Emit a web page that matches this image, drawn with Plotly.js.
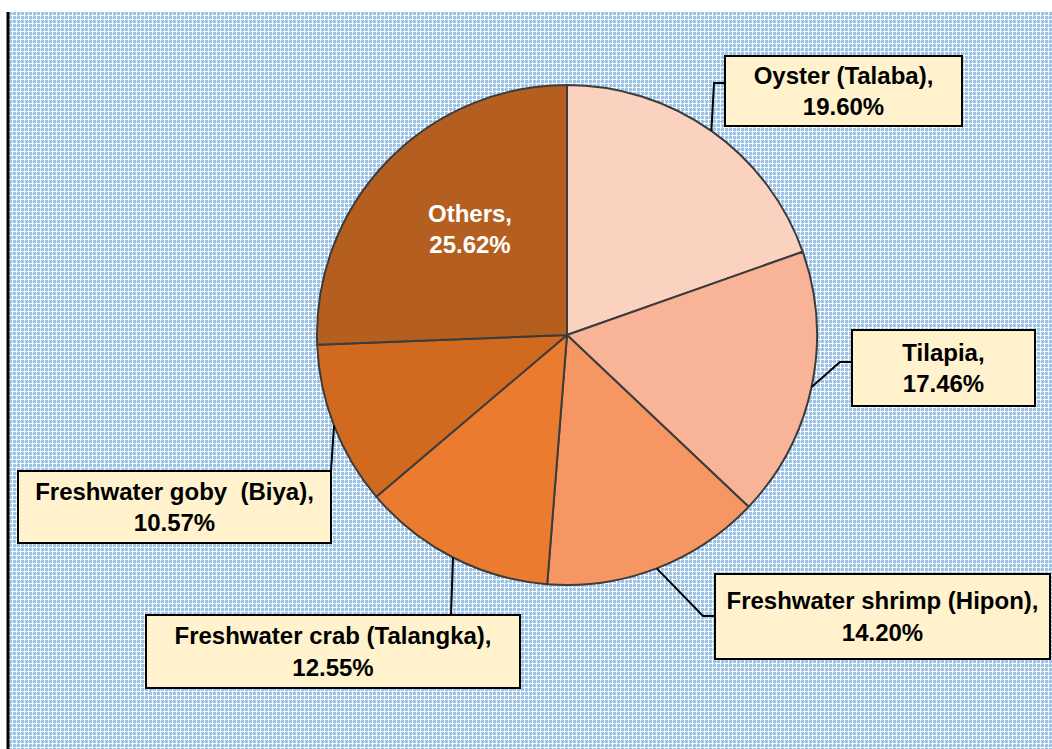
<!DOCTYPE html>
<html>
<head>
<meta charset="utf-8">
<script src="https://cdn.plot.ly/plotly-3.0.1.min.js"></script>
<style>
  html, body { margin: 0; padding: 0; background: #ffffff; }
  #wrap { position: relative; width: 1052px; height: 749px; background: #ffffff; overflow: hidden; }
  #bg { position: absolute; left: 9px; top: 12px; right: 0; bottom: 0;
        background-image: url("data:image/svg+xml;utf8,<svg xmlns='http://www.w3.org/2000/svg' width='8' height='8' shape-rendering='crispEdges'><rect width='8' height='8' fill='%23ffffff'/><rect x='0' y='0' width='3' height='3' fill='%239dc3e6'/><rect x='4' y='0' width='3' height='3' fill='%239dc3e6'/><rect x='0' y='4' width='3' height='3' fill='%239dc3e6'/><rect x='4' y='4' width='3' height='3' fill='%239dc3e6'/><rect x='3' y='1' width='1' height='1' fill='%239dc3e6'/><rect x='1' y='3' width='1' height='1' fill='%239dc3e6'/><rect x='7' y='5' width='1' height='1' fill='%239dc3e6'/><rect x='5' y='7' width='1' height='1' fill='%239dc3e6'/></svg>");
        background-repeat: repeat; }
  #chart { position: absolute; left: 0; top: 0; width: 1052px; height: 749px; }
</style>
</head>
<body>
<div id="wrap"><div id="bg"></div><div id="chart"></div></div>
<script>
// ---- data ----
const categories = ["Oyster (Talaba)", "Tilapia", "Freshwater shrimp (Hipon)", "Freshwater crab (Talangka)", "Freshwater goby  (Biya)", "Others"];
const values = [19.60, 17.46, 14.20, 12.55, 10.57, 25.62];
const sliceColors = ["#fbd2bf", "#f9b498", "#f69763", "#eb7c2f", "#d1691f", "#b45f20"];

// ---- layout helpers (pixels) ----
const W = 1052, H = 749;
const CX = 567, CY = 335, R = 250;
const px = x => x / W;
const py = y => 1 - y / H;

// label box geometry: [left, top, right, bottom]
const boxes = [
  [725, 56, 962, 126],
  [852, 330, 1035, 406],
  [715, 574, 1050, 659],
  [146, 615, 520, 688],
  [18, 471, 331, 543],
  null
];
// elbow routes for leader lines (after the tip on the pie edge)
const routes = [
  [[714, 83], [725, 83]],
  [[840, 362], [852, 362]],
  [[703, 616], [715, 616]],
  [[451, 615]],
  [[331, 471]],
  null
];

const total = values.reduce((a, b) => a + b, 0);
let cum = 0;
const annotations = [];
const shapes = [];
values.forEach((v, i) => {
  const mid = (cum + v / 2) / total * 2 * Math.PI;
  cum += v;
  const tip = [CX + R * Math.sin(mid), CY - R * Math.cos(mid)];
  const txt = categories[i] + ",<br>" + v.toFixed(2) + "%";
  if (boxes[i]) {
    const b = boxes[i];
    annotations.push({
      xref: "paper", yref: "paper",
      x: px((b[0] + b[2]) / 2), y: py((b[1] + b[3]) / 2),
      xanchor: "center", yanchor: "middle",
      width: b[2] - b[0] - 2, height: b[3] - b[1] - 2,
      text: txt, showarrow: false, align: "center", valign: "middle",
      bgcolor: "#fff2cc", bordercolor: "#000000", borderwidth: 2, borderpad: 0,
      font: { family: "Liberation Sans, Arial, sans-serif", size: 24, color: "#000000", weight: "bold" }
    });
    let d = "M" + px(tip[0]) + "," + py(tip[1]);
    routes[i].forEach(p => { d += " L" + px(p[0]) + "," + py(p[1]); });
    shapes.push({ type: "path", xref: "paper", yref: "paper", path: d,
      line: { color: "#000000", width: 2 } });
  } else {
    // inside label (Others)
    annotations.push({
      xref: "paper", yref: "paper", x: px(470), y: py(229),
      xanchor: "center", yanchor: "middle",
      text: txt, showarrow: false, align: "center",
      font: { family: "Liberation Sans, Arial, sans-serif", size: 24, color: "#ffffff", weight: "bold" }
    });
  }
});

// left black frame line
shapes.push({ type: "line", xref: "paper", yref: "paper",
  x0: px(8), x1: px(8), y0: py(12), y1: 0,
  line: { color: "#000000", width: 3 } });

const trace = {
  type: "pie",
  labels: categories,
  values: values,
  sort: false,
  direction: "clockwise",
  rotation: 0,
  textinfo: "none",
  hoverinfo: "label+percent",
  marker: { colors: sliceColors, line: { color: "#3c3c3c", width: 2 } },
  domain: { x: [px(CX - R), px(CX + R)], y: [py(CY + R), py(CY - R)] },
  showlegend: false
};

const layout = {
  width: W, height: H,
  margin: { l: 0, r: 0, t: 0, b: 0 },
  paper_bgcolor: "rgba(0,0,0,0)",
  plot_bgcolor: "rgba(0,0,0,0)",
  showlegend: false,
  annotations: annotations,
  shapes: shapes
};

Plotly.newPlot("chart", [trace], layout, { displayModeBar: false, staticPlot: true });
</script>
</body>
</html>
